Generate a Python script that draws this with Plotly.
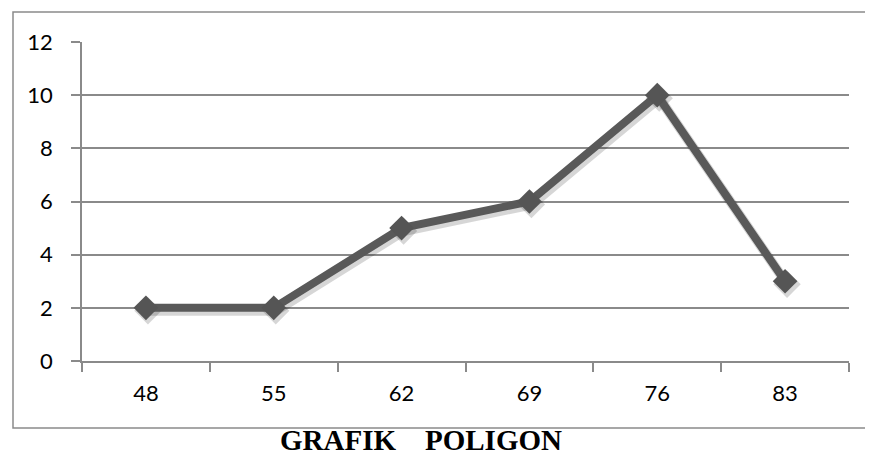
import plotly.graph_objects as go

categories = ["48", "55", "62", "69", "76", "83"]
values = [2, 2, 5, 6, 10, 3]
y_ticks = [0, 2, 4, 6, 8, 10, 12]
title_text = "GRAFIK\u00a0\u00a0\u00a0\u00a0POLIGON"

# the page body has an 8px default margin; size the figure to fill the window
OFF = 8
W, H = 873 - OFF, 452 - OFF
L, R, T, B = 82 - OFF, 24, 42 - OFF, 452 - 361
pw, ph = W - L - R, H - T - B

def px_x(p):  # window pixel -> paper
    return (p - OFF - L) / pw

def px_y(p):
    return (H - B - (p - OFF)) / ph

XR = [-0.5, 5.5]
YR = [0, 12]
# shadow offset (pixels) converted to axis units
sdx = 2 * (XR[1] - XR[0]) / pw
sdy = 3 * (YR[1] - YR[0]) / ph

fig = go.Figure()
# invisible trace that keeps the base (visible) axes alive
fig.add_trace(go.Scatter(
    x=categories, y=values, mode="markers",
    marker=dict(opacity=0), showlegend=False, hoverinfo="skip",
))
fig.add_trace(go.Scatter(
    x=categories, y=values, mode="lines+markers", xaxis="x2", yaxis="y2",
    line=dict(color="rgba(0,0,0,0.16)", width=10),
    marker=dict(symbol="diamond", size=21, color="rgba(0,0,0,0.16)"),
    showlegend=False, hoverinfo="skip",
))
fig.add_trace(go.Scatter(
    x=categories, y=values, mode="lines+markers", xaxis="x3", yaxis="y3",
    line=dict(color="#595959", width=8),
    marker=dict(symbol="diamond", size=19, color="#555555"),
    showlegend=False, hoverinfo="skip",
))

grey = "#8a8a8a"
hidden = dict(visible=False, showgrid=False, zeroline=False)
fig.update_layout(
    width=W, height=H,
    margin=dict(l=L, r=R, t=T, b=B, autoexpand=False),
    paper_bgcolor="white", plot_bgcolor="white",
    font=dict(family="Lato, Open Sans, sans-serif", size=22, color="black"),
    xaxis=dict(
        type="category", categoryarray=categories, range=XR, tickson="boundaries",
        ticks="outside", ticklen=9, tickcolor=grey, tickwidth=1.5,
        showline=True, linecolor=grey, linewidth=1.5,
        showgrid=False, zeroline=False, ticklabelstandoff=12,
    ),
    yaxis=dict(
        range=YR, tickvals=y_ticks,
        ticks="outside", ticklen=9, tickcolor=grey, tickwidth=1.5,
        showline=True, linecolor=grey, linewidth=1.5,
        showgrid=True, gridcolor=grey, gridwidth=1.5,
        zeroline=False, ticklabelstandoff=14,
    ),
    xaxis2=dict(type="category", categoryarray=categories, overlaying="x",
                range=[XR[0] - sdx, XR[1] - sdx], **hidden),
    yaxis2=dict(overlaying="y", range=[YR[0] + sdy, YR[1] + sdy], **hidden),
    xaxis3=dict(type="category", categoryarray=categories, overlaying="x",
                range=XR, **hidden),
    yaxis3=dict(overlaying="y", range=YR, **hidden),
    shapes=[dict(
        type="rect", xref="paper", yref="paper",
        x0=px_x(13), x1=px_x(890), y0=px_y(428), y1=px_y(12),
        line=dict(color=grey, width=1.5), fillcolor="rgba(0,0,0,0)",
        layer="below",
    )],
    annotations=[dict(
        text="<b>" + title_text + "</b>", xref="paper", yref="paper",
        x=px_x(421), y=px_y(440), xanchor="center", yanchor="middle",
        showarrow=False,
        font=dict(family="Liberation Serif, Times New Roman, serif", size=29, color="black"),
    )],
)

fig.write_html("out.html")
